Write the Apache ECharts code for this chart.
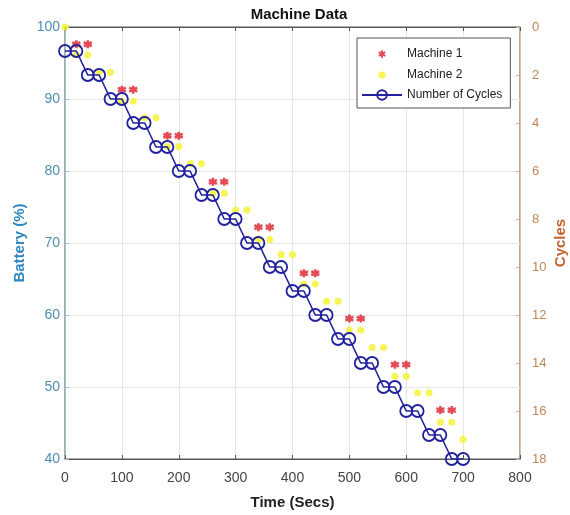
<!DOCTYPE html>
<html>
<head>
<meta charset="utf-8">
<script src="https://cdn.jsdelivr.net/npm/echarts@6/dist/echarts.min.js"></script>
<style>
  html, body { margin: 0; padding: 0; background: #fff; }
  #main { width: 570px; height: 515px; }
</style>
</head>
<body>
<div id="main"></div>
<script>
// time (secs)
var timeSecs = [0, 20, 40, 60, 80, 100, 120, 140, 160, 180, 200, 220, 240, 260, 280, 300, 320, 340,
    360, 380, 400, 420, 440, 460, 480, 500, 520, 540, 560, 580, 600, 620, 640, 660, 680, 700];
// number of cycles (right axis)
var cycles = [1, 1, 2, 2, 3, 3, 4, 4, 5, 5, 6, 6, 7, 7, 8, 8, 9, 9,
    10, 10, 11, 11, 12, 12, 13, 13, 14, 14, 15, 15, 16, 16, 17, 17, 18, 18];
// machine 1 battery readings
var m1Time = [20, 40, 100, 120, 180, 200, 260, 280, 340, 360, 420, 440, 500, 520, 580, 600, 660, 680];
var m1Battery = [97.6, 97.6, 91.3, 91.3, 84.9, 84.9, 78.5, 78.5, 72.2, 72.2, 65.8, 65.8, 59.5, 59.5, 53.1, 53.1, 46.8, 46.8];
// machine 2 battery readings
var m2Battery = [100, 96.1, 96.1, 93.7, 93.7, 89.7, 89.7, 87.4, 87.4, 83.4, 83.4, 81.0, 81.0, 76.9, 76.9, 74.6, 74.6, 70.5,
    70.5, 68.4, 68.4, 64.3, 64.3, 61.9, 61.9, 57.9, 57.9, 55.5, 55.5, 51.5, 51.5, 49.2, 49.2, 45.1, 45.1, 42.7];

function pairs(xs, ys) {
    var out = [];
    for (var i = 0; i < xs.length; i++) out.push([xs[i], ys[i]]);
    return out;
}

var starPath = 'path://M5,0L5,10M0.7,2.5L9.3,7.5M0.7,7.5L9.3,2.5';
// smaller legend icons: the first two moveTo points only pad the box
var starIcon = 'path://M0,0M12,12M6,2.3L6,9.7M2.8,4.15L9.2,7.85M2.8,7.85L9.2,4.15';
var dotIcon = 'path://M0,0M12,12M9.6,6A3.6,3.6,0,1,1,2.4,6A3.6,3.6,0,1,1,9.6,6Z';

var myChart = echarts.init(document.getElementById('main'));
myChart.setOption({
    animation: false,
    textStyle: { fontFamily: 'Liberation Sans, Arial, sans-serif' },
    title: {
        text: 'Machine Data',
        left: 294,
        textAlign: 'center',
        top: 2,
        textStyle: { fontSize: 15, fontWeight: 'bold', color: '#111' }
    },
    legend: {
        orient: 'vertical',
        left: 357,
        top: 38,
        width: 154,
        padding: [9, 8, 7, 4],
        itemGap: 8,
        itemWidth: 40,
        itemHeight: 12,
        backgroundColor: '#fff',
        borderColor: '#555',
        borderWidth: 1,
        borderRadius: 0,
        textStyle: { fontSize: 12, color: '#222' },
        data: [
            { name: 'Machine 1', icon: starIcon },
            { name: 'Machine 2', icon: dotIcon },
            'Number of Cycles'
        ]
    },
    grid: {
        left: 65, right: 50, top: 27, bottom: 56,
        outerBoundsMode: 'none',
        containLabel: false,
        show: true, borderColor: '#555', borderWidth: 1
    },
    xAxis: [{
        type: 'value',
        min: 0, max: 800, interval: 100,
        name: 'Time (Secs)',
        nameLocation: 'middle',
        nameGap: 36,
        nameMoveOverlap: false,
        nameTextStyle: { fontSize: 15, fontWeight: 'bold', color: '#222' },
        axisLine: { onZero: false, lineStyle: { color: '#555' } },
        axisTick: { inside: true, length: 4, lineStyle: { color: '#555' } },
        axisLabel: { fontSize: 14, color: '#444', margin: 12 },
        splitLine: { lineStyle: { color: '#e6e6e6' } }
    }, {
        type: 'value',
        position: 'top',
        min: 0, max: 800, interval: 100,
        axisLine: { onZero: false, lineStyle: { color: '#555' } },
        axisTick: { inside: true, length: 4, lineStyle: { color: '#555' } },
        axisLabel: { show: false },
        splitLine: { show: false }
    }],
    yAxis: [{
        type: 'value',
        min: 40, max: 100, interval: 10,
        position: 'left',
        name: 'Battery (%)',
        nameLocation: 'middle',
        nameGap: 38,
        nameMoveOverlap: false,
        nameRotate: 90,
        nameTextStyle: { fontSize: 15, fontWeight: 'bold', color: '#2e87bf' },
        axisLine: { show: true, onZero: false, lineStyle: { color: '#9fc4cf' } },
        axisTick: { show: true, inside: true, length: 4, lineStyle: { color: '#9fc4cf' } },
        axisLabel: { fontSize: 14, color: '#4f8db3', margin: 5 },
        splitLine: { lineStyle: { color: '#e6e6e6' } }
    }, {
        type: 'value',
        min: 0, max: 18, interval: 2,
        inverse: true,
        position: 'right',
        name: 'Cycles',
        nameLocation: 'middle',
        nameGap: 33,
        nameMoveOverlap: false,
        nameRotate: 90,
        nameTextStyle: { fontSize: 15, fontWeight: 'bold', color: '#c2632f' },
        axisLine: { show: true, onZero: false, lineStyle: { color: '#e6c2a6' } },
        axisTick: { show: true, inside: true, length: 4, lineStyle: { color: '#d9a886' } },
        axisLabel: { fontSize: 13, color: '#c08658', margin: 12 },
        splitLine: { show: false }
    }],
    series: [{
        name: 'Machine 1',
        type: 'scatter',
        yAxisIndex: 0,
        symbol: starPath,
        symbolSize: 8,
        itemStyle: { color: '#dc1f2a', borderColor: '#dc1f2a', borderWidth: 2.6 },
        data: pairs(m1Time, m1Battery),
        z: 3
    }, {
        name: 'Machine 2',
        type: 'scatter',
        yAxisIndex: 0,
        symbol: 'circle',
        symbolSize: 7,
        itemStyle: { color: '#f2f22a' },
        data: pairs(timeSecs, m2Battery),
        z: 2
    }, {
        name: 'Number of Cycles',
        type: 'line',
        yAxisIndex: 1,
        symbol: 'circle',
        symbolSize: 12,
        showAllSymbol: true,
        lineStyle: { color: '#22229e', width: 1.6 },
        itemStyle: { color: 'rgba(0,0,0,0)', borderColor: '#22229e', borderWidth: 1.8 },
        data: pairs(timeSecs, cycles),
        z: 4
    }]
});
</script>
</body>
</html>
